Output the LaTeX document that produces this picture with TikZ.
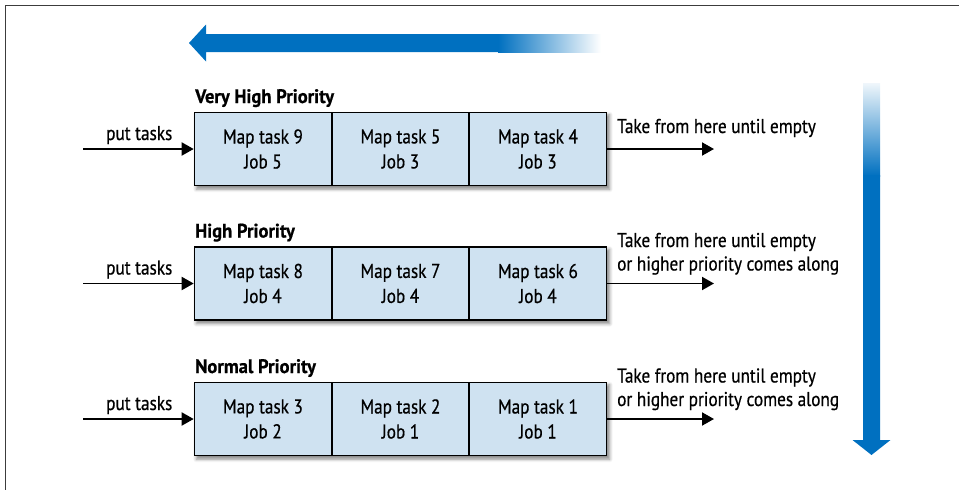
\documentclass[tikz,border=0pt]{standalone}
\usepackage{fontspec}
\setmainfont{PT Sans}[FakeStretch=0.86, FakeBold=0.6, BoldFeatures={FakeStretch=0.95}]
\usetikzlibrary{shadows.blur,fit,backgrounds,arrows.meta}
\definecolor{arrowblue}{RGB}{0,112,192}
\definecolor{cellfill}{RGB}{207,226,241}
\definecolor{framegray}{RGB}{60,60,60}
\begin{document}
\begin{tikzpicture}[x=1pt,y=-1pt,
  cell/.style={draw=black, line width=1.6pt, fill=cellfill, minimum width=137pt,
    minimum height=73pt, inner sep=0pt, align=center, font=\fontsize{20}{25}\selectfont},
  rowshadow/.style={inner sep=0pt, fill=cellfill, blur shadow={shadow xshift=2.5pt,
    shadow yshift=-3pt, shadow blur radius=3pt, shadow opacity=45}},
  prio/.style={anchor=base west, inner sep=0pt, font=\fontsize{19.5}{23}\bfseries\selectfont},
  txt/.style={anchor=base west, inner sep=0pt, font=\fontsize{20}{23.5}\selectfont},
  flow/.style={line width=1.9pt, -{Triangle[length=12pt,width=13pt]}}]
\useasboundingbox (0,0) rectangle (959,490);
% frame
\draw[framegray, line width=1.5pt] (5.5,490) -- (5.5,5.5) -- (959,5.5);
% horizontal blue arrow
\fill[arrowblue] (189,43) -- (206,24.5) -- (206,34) -- (499,34) -- (499,52) -- (206,52) -- (206,61.5) -- cycle;
\shade[left color=arrowblue, right color=white] (498,34) rectangle (601,52);
% vertical blue arrow
\shade[top color=arrowblue!6, bottom color=arrowblue] (863,83) rectangle (880,176);
\fill[arrowblue] (863,175) -- (880,175) -- (880,440) -- (890.5,440) -- (871.5,455) -- (852.5,440) -- (863,440) -- cycle;

% rows
\foreach \r/\y/\name/\ta/\ja/\tb/\jb/\tc/\jc in
  {1/149/Very High Priority/9/5/5/3/4/3,
   2/283.5/High Priority/8/4/7/4/6/4,
   3/419/Normal Priority/3/2/2/1/1/1}{
  \node[cell] (c\r a) at (263,\y) {Map task \ta\\Job \ja};
  \node[cell] (c\r b) at (400.5,\y) {Map task \tb\\Job \jb};
  \node[cell] (c\r c) at (538,\y) {Map task \tc\\Job \jc};
  \begin{scope}[on background layer]
    \node[rowshadow, fit=(c\r a)(c\r c)] (sh\r) {};
  \end{scope}
  \node[prio] (p\r) at (195,\y-46) {\name};
  \coordinate (in\r) at (83,\y);
  \coordinate (out\r) at (714,\y);
  \draw[flow] (in\r) -- (c\r a.west);
  \draw[flow] (c\r c.east) -- (out\r);
  \node[txt] (put\r) at (106,\y-9) {put tasks};
}
\node[txt] (take1) at (617,133) {Take from here until empty};
\node[txt, align=left] (take2) at (617,270.5) {Take from here until empty\\or higher priority comes along};
\node[txt, align=left] (take3) at (617,406) {Take from here until empty\\or higher priority comes along};
\end{tikzpicture}
\end{document}
